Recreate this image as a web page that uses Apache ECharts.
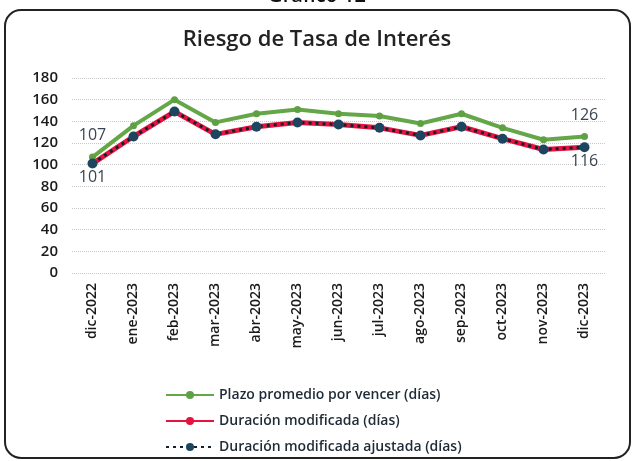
<!DOCTYPE html>
<html>
<head>
<meta charset="utf-8">
<script src="https://cdn.jsdelivr.net/npm/echarts@6/dist/echarts.min.js"></script>
<style>
  html, body { margin: 0; padding: 0; background: #fff; }
  #chart { width: 634px; height: 461px; }
</style>
</head>
<body>
<div id="chart"></div>
<script>
const months = ['dic-2022', 'ene-2023', 'feb-2023', 'mar-2023', 'abr-2023', 'may-2023', 'jun-2023',
  'jul-2023', 'ago-2023', 'sep-2023', 'oct-2023', 'nov-2023', 'dic-2023']
const plazo = [107, 136, 160, 139, 147, 151, 147, 145, 138, 147, 134, 123, 126]
const duracion = [101, 126, 149, 128, 135, 139, 137, 134, 127, 135, 124, 114, 116]
const duracionAjustada = [101, 126, 149, 128, 135, 139, 137, 134, 127, 135, 124, 114, 116]

const font = 'Open Sans'

// labels only at both ends
function endLabel(pos, dist) {
  return {
    show: true,
    position: pos,
    fontFamily: font,
    fontSize: 16,
    color: '#3a4652',
    distance: dist,
    formatter: p => (p.dataIndex === 0 || p.dataIndex === months.length - 1) ? p.value : ''
  }
}

const chart = echarts.init(document.getElementById('chart'))
chart.setOption({
  animation: false,
  graphic: [
    {
      type: 'rect',
      shape: { x: 5, y: 10, width: 625, height: 448, r: 16 },
      style: { fill: 'none', stroke: '#222', lineWidth: 2 }
    },
    {
      type: 'text',
      left: 'center',
      top: -14,
      style: { text: 'Gráfico 12', font: '600 20px "Open Sans"', fill: '#111' }
    }
  ],
  title: {
    text: 'Riesgo de Tasa de Interés',
    left: 'center',
    top: 24,
    textStyle: { fontFamily: font, fontSize: 22, fontWeight: 600, color: '#222' }
  },
  legend: {
    orient: 'vertical',
    left: 160,
    top: 383,
    itemWidth: 48,
    itemHeight: 10,
    itemGap: 12,
    textStyle: { fontFamily: font, fontSize: 14, fontWeight: 600, color: '#1e2a36' },
    data: ['Plazo promedio por vencer (días)', 'Duración modificada (días)', 'Duración modificada ajustada (días)']
  },
  grid: { left: 72, right: 29, top: 78, bottom: 188 },
  xAxis: {
    type: 'category',
    data: months,
    axisLine: { show: false },
    axisTick: { show: false },
    axisLabel: {
      rotate: 90,
      margin: 10,
      fontFamily: font,
      fontSize: 14,
      fontWeight: 600,
      color: '#1a1a1a'
    }
  },
  yAxis: {
    type: 'value',
    min: 0,
    max: 180,
    interval: 20,
    axisLine: { show: false },
    axisTick: { show: false },
    axisLabel: { margin: 14, fontFamily: font, fontSize: 15, fontWeight: 600, color: '#1a1a1a' },
    splitLine: { lineStyle: { color: '#c8c8c8', type: 'dotted', width: 1 } }
  },
  series: [
    {
      name: 'Plazo promedio por vencer (días)',
      type: 'line',
      data: plazo,
      symbol: 'circle',
      symbolSize: 7,
      itemStyle: { color: '#5fa044' },
      lineStyle: { color: '#64a648', width: 4 },
      label: endLabel('top', 10)
    },
    {
      name: 'Duración modificada (días)',
      type: 'line',
      data: duracion,
      symbol: 'circle',
      symbolSize: 6,
      itemStyle: { color: '#e4133f' },
      lineStyle: { color: '#e4133f', width: 5 },
      label: endLabel('bottom', 3)
    },
    {
      name: 'Duración modificada ajustada (días)',
      type: 'line',
      data: duracionAjustada,
      symbol: 'circle',
      symbolSize: 10,
      itemStyle: { color: '#1d4560' },
      lineStyle: { color: '#14202c', width: 3, type: [3, 4] }
    }
  ]
})
</script>
</body>
</html>
